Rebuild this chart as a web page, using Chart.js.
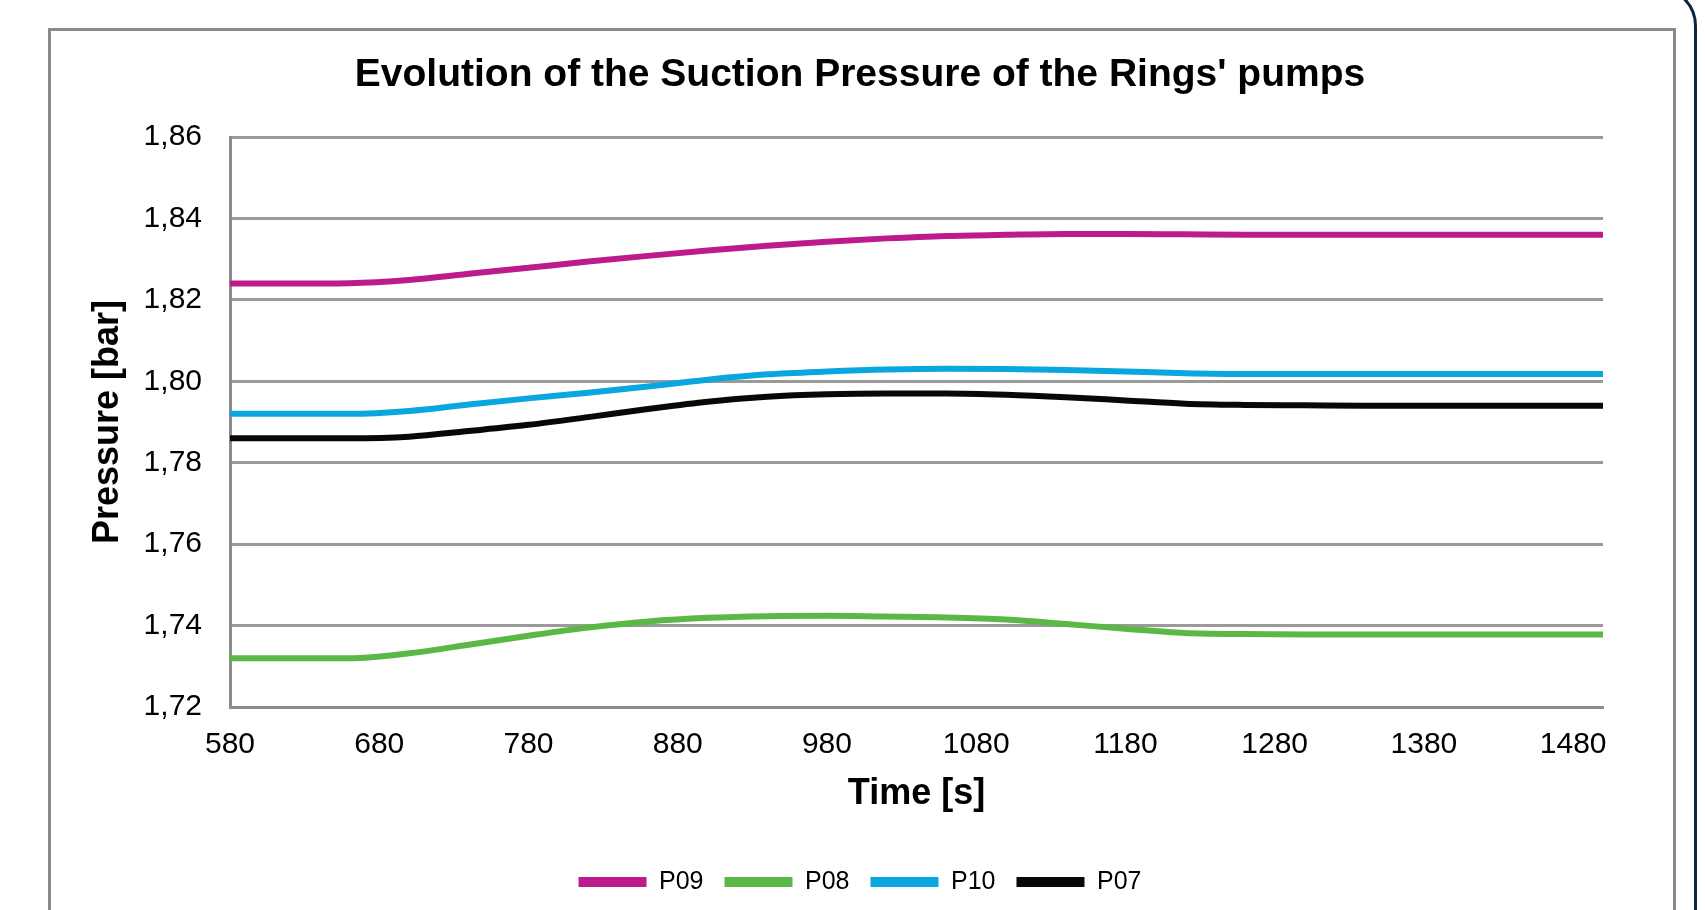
<!DOCTYPE html>
<html>
<head>
<meta charset="utf-8">
<script src="https://cdn.jsdelivr.net/npm/chart.js@4/dist/chart.umd.min.js"></script>
<style>
  html, body { margin: 0; padding: 0; background: #ffffff; overflow: hidden; width: 1705px; height: 910px; }
  #navy { position: absolute; left: -200px; top: -14px; width: 1897px; height: 2000px; border: 3px solid #0e2443; border-radius: 40px; box-sizing: border-box; }
  #frame { position: absolute; left: 48px; top: 28px; width: 1628px; height: 1200px; border: 3px solid #8a8a8a; box-sizing: border-box; background: #ffffff; }
  #c { position: absolute; left: 0; top: 0; }
</style>
</head>
<body>
<div id="navy"></div>
<div id="frame"></div>
<canvas id="c" width="1705" height="910"></canvas>
<script>
// ---- data ----
const chartTitle = "Evolution of the Suction Pressure of the Rings' pumps";
const xTitle = "Time [s]";
const yTitle = "Pressure [bar]";
const times = [580, 620, 660, 700, 740, 780, 820, 860, 900, 940, 980, 1020, 1060, 1100, 1140, 1180, 1220, 1260, 1300, 1340, 1380, 1420, 1460, 1500];
const seriesNames = ["P09", "P08", "P10", "P07"];
const p09 = [1.824, 1.824, 1.8241, 1.8249, 1.8264, 1.8279, 1.8294, 1.8308, 1.8321, 1.8333, 1.8343, 1.8351, 1.8357, 1.836, 1.8362, 1.8362, 1.8361, 1.836, 1.836, 1.836, 1.836, 1.836, 1.836, 1.836];
const p08 = [1.732, 1.732, 1.732, 1.7332, 1.7353, 1.7375, 1.7395, 1.741, 1.7419, 1.7423, 1.7424, 1.7422, 1.742, 1.7415, 1.7404, 1.7392, 1.7382, 1.7379, 1.7378, 1.7378, 1.7378, 1.7378, 1.7378, 1.7378];
const p10 = [1.792, 1.792, 1.792, 1.7927, 1.7943, 1.7958, 1.7972, 1.7987, 1.8004, 1.8017, 1.8024, 1.8029, 1.8031, 1.803, 1.8028, 1.8024, 1.802, 1.8018, 1.8018, 1.8018, 1.8018, 1.8018, 1.8018, 1.8018];
const p07 = [1.786, 1.786, 1.786, 1.7864, 1.7878, 1.7893, 1.7912, 1.7932, 1.795, 1.7962, 1.7968, 1.797, 1.797, 1.7967, 1.7961, 1.7953, 1.7945, 1.7942, 1.7941, 1.794, 1.794, 1.794, 1.794, 1.794];
const xTicks = [580, 680, 780, 880, 980, 1080, 1180, 1280, 1380, 1480];
const yTicks = [1.72, 1.74, 1.76, 1.78, 1.80, 1.82, 1.84, 1.86];
const xMin = 580, xMax = 1500, yMin = 1.72, yMax = 1.86;
const colors = ["#bd1a8b", "#5ab946", "#0aa6e0", "#080808"];
const seriesValues = [p09, p08, p10, p07];

const FONT = "'Liberation Sans', Arial, Helvetica, sans-serif";

const datasets = seriesNames.map((name, i) => ({
  label: name,
  data: times.map((t, k) => ({ x: t, y: seriesValues[i][k] })),
  borderColor: colors[i],
  backgroundColor: colors[i],
  borderWidth: 6,
  pointRadius: 0,
  cubicInterpolationMode: 'monotone',
  fill: false
}));

new Chart(document.getElementById('c'), {
  type: 'line',
  data: { datasets },
  options: {
    responsive: false,
    animation: false,
    devicePixelRatio: 1,
    layout: { padding: { left: 60, right: 45, top: 30, bottom: 5.5 } },
    plugins: {
      title: {
        display: true,
        text: chartTitle,
        color: '#000',
        font: { family: FONT, size: 39, weight: 'bold', lineHeight: 1.2 },
        padding: { top: 22, bottom: 38.2 }
      },
      legend: {
        position: 'bottom',
        labels: {
          boxWidth: 68,
          boxHeight: 10,
          padding: 21,
          color: '#000',
          font: { family: FONT, size: 25 },
          generateLabels: (chart) => chart.data.datasets.map((d, i) => ({
            text: d.label,
            fillStyle: d.borderColor,
            strokeStyle: d.borderColor,
            lineWidth: 0,
            hidden: false,
            datasetIndex: i,
            fontColor: '#000'
          }))
        }
      },
      tooltip: { enabled: false }
    },
    scales: {
      x: {
        type: 'linear',
        min: xMin,
        max: xMax,
        afterBuildTicks: (s) => { s.ticks = xTicks.map(v => ({ value: v })); },
        afterFit: (s) => { s.height = 141.5; },
        grid: { display: false, drawTicks: false },
        border: { display: true, color: '#8c8c8c', width: 3 },
        ticks: {
          autoSkip: false, maxRotation: 0, padding: 20, color: '#000',
          font: { family: FONT, size: 30 },
          callback: (v) => String(v)
        },
        title: {
          display: true, text: xTitle, color: '#000',
          font: { family: FONT, size: 36, weight: 'bold', lineHeight: 1.2 },
          padding: { top: 0, bottom: 33 }
        }
      },
      y: {
        type: 'linear',
        min: yMin,
        max: yMax,
        afterBuildTicks: (s) => { s.ticks = yTicks.map(v => ({ value: v })); },
        afterFit: (s) => { s.width = 170; },
        grid: { color: '#9a9a9a', lineWidth: 3, drawTicks: false },
        border: { display: true, color: '#8c8c8c', width: 3 },
        ticks: {
          padding: 28, color: '#000',
          font: { family: FONT, size: 30 },
          callback: (v) => Number(v).toFixed(2).replace('.', ',')
        },
        title: {
          display: true, text: yTitle, color: '#000',
          font: { family: FONT, size: 36, weight: 'bold', lineHeight: 1.2 },
          padding: { top: 26.4, bottom: 0 }
        }
      },
      yRight: {
        type: 'linear',
        position: 'right',
        display: true,
        min: yMin,
        max: yMax,
        afterFit: (s) => { s.width = 57; },
        grid: { display: false, drawTicks: false },
        border: { display: false },
        ticks: { display: false }
      }
    }
  }
});
</script>
</body>
</html>
